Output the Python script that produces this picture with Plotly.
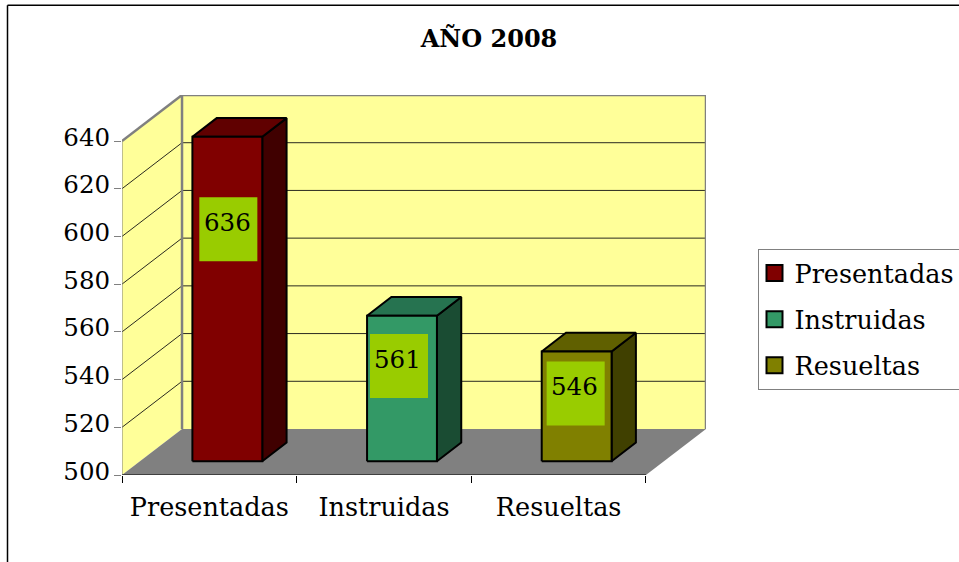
import plotly.graph_objects as go

categories = ["Presentadas", "Instruidas", "Resueltas"]
values = [636, 561, 546]
y_ticks = [500, 520, 540, 560, 580, 600, 620, 640]
title_text = "AÑO 2008"

front_colors = ["#800000", "#339966", "#808000"]
top_colors = ["#600000", "#267350", "#606000"]
side_colors = ["#400000", "#1A4C33", "#404000"]
WALL = "#FFFF99"
FLOOR = "#808080"
EDGE = "#808080"
LABEL_BG = "#99CC00"
FONT = "DejaVu Serif"

# pixel frame of the plot area
W, H = 959, 562
L, R, T, B = 122.0, 706.0, 94.5, 474.7
Y_MIN, Y_MAX = 500, 640
PX_PER_CAT = 174.6
PX_PER_UNIT = (B - 140.7) / (Y_MAX - Y_MIN)
DX = 60.0 / PX_PER_CAT      # full-depth shift, in category units
DY = 46.0 / PX_PER_UNIT     # full-depth shift, in value units
N = len(categories)
BAR_W = 0.40
D_FRONT, D_BACK = 0.30, 0.705
LABEL_NUDGE_PX = (2.0, -2.0, 0.0)  # small horizontal offset of each value label


def P(x, v, d=0.0):
    return x + d * DX, v + d * DY


def poly(points, fill, line_color=None, line_width=0, closed=True, hover=None):
    pts = [P(*p) for p in points]
    if closed:
        pts.append(pts[0])
    return go.Scatter(
        x=[p[0] for p in pts], y=[p[1] for p in pts],
        mode="lines", fill="toself" if fill else "none", fillcolor=fill,
        line=dict(color=line_color or "rgba(0,0,0,0)", width=line_width),
        cliponaxis=False, showlegend=False, hoverinfo="skip",
    )


def segs(seglist, color, width):
    xs, ys = [], []
    for seg in seglist:
        for p in seg:
            q = P(*p)
            xs.append(q[0]); ys.append(q[1])
        xs.append(None); ys.append(None)
    return go.Scatter(x=xs, y=ys, mode="lines", line=dict(color=color, width=width),
                      cliponaxis=False, showlegend=False, hoverinfo="skip")


fig = go.Figure()

# walls and floor
fig.add_trace(poly([(0, Y_MIN, 1), (N, Y_MIN, 1), (N, Y_MAX, 1), (0, Y_MAX, 1)], WALL))
fig.add_trace(poly([(0, Y_MIN, 0), (0, Y_MIN, 1), (0, Y_MAX, 1), (0, Y_MAX, 0)], WALL))
fig.add_trace(poly([(0, Y_MIN, 0), (N, Y_MIN, 0), (N, Y_MIN, 1), (0, Y_MIN, 1)], FLOOR))

# gridlines
grid = [[(0, t, 0), (0, t, 1), (N, t, 1)] for t in y_ticks if Y_MIN < t < Y_MAX]
fig.add_trace(segs(grid, "#2a2a20", 1))

# wall edges
fig.add_trace(segs([[(0, Y_MIN, 1), (0, Y_MAX, 1), (N, Y_MAX, 1), (N, Y_MIN, 1)],
                    [(0, Y_MAX, 0), (0, Y_MAX, 1)]], EDGE, 2.5))
fig.add_trace(segs([[(0, Y_MIN, 0), (0, Y_MAX, 0)]], EDGE, 1))
# category axis line and ticks
fig.add_trace(segs([[(0, Y_MIN, 0), (N, Y_MIN, 0)]], "#000000", 1))

# bars
for i, (cat, v) in enumerate(zip(categories, values)):
    x0, x1 = i + 0.5 - BAR_W / 2, i + 0.5 + BAR_W / 2
    fig.add_trace(poly([(x1, Y_MIN, D_FRONT), (x1, Y_MIN, D_BACK), (x1, v, D_BACK), (x1, v, D_FRONT)],
                       side_colors[i], "#000000", 2))
    fig.add_trace(poly([(x0, v, D_FRONT), (x1, v, D_FRONT), (x1, v, D_BACK), (x0, v, D_BACK)],
                       top_colors[i], "#000000", 2))
    fig.add_trace(poly([(x0, Y_MIN, D_FRONT), (x1, Y_MIN, D_FRONT), (x1, v, D_FRONT), (x0, v, D_FRONT)],
                       front_colors[i], "#000000", 2))

# value labels (green box hung below the top of each bar)
BOX_W = 58.0 / PX_PER_CAT
BOX_H = 64.0 / PX_PER_UNIT
for i, v in enumerate(values):
    cx = i + 0.5 + (LABEL_NUDGE_PX[i] - 1.0) / PX_PER_CAT
    cv = v - 6.75 - 0.2357 * (v - Y_MIN)
    fig.add_trace(poly([(cx - BOX_W / 2, cv - BOX_H / 2, D_FRONT), (cx + BOX_W / 2, cv - BOX_H / 2, D_FRONT),
                        (cx + BOX_W / 2, cv + BOX_H / 2, D_FRONT), (cx - BOX_W / 2, cv + BOX_H / 2, D_FRONT)],
                       LABEL_BG))
    tx, tv = P(cx - 1.0 / PX_PER_CAT, cv + 6.5 / PX_PER_UNIT, D_FRONT)
    fig.add_annotation(x=tx, y=tv, text=str(v), showarrow=False, xanchor="center", yanchor="middle",
                       font=dict(family=FONT, size=24.5, color="#000000"))

# legend entries
for i, cat in enumerate(categories):
    fig.add_trace(go.Scatter(x=[None], y=[None], mode="markers", name=cat, legendgroup=cat,
                             marker=dict(symbol="square", size=16, color=front_colors[i],
                                         line=dict(color="#000000", width=2))))

PW = R - L
PH = B - T
fig.update_layout(
    width=W, height=H, autosize=False,
    margin=dict(l=L, r=W - R, t=T, b=H - B, pad=0, autoexpand=False),
    paper_bgcolor="#FFFFFF", plot_bgcolor="rgba(0,0,0,0)",
    font=dict(family=FONT, size=24, color="#000000"),
    title=dict(text="<b>%s</b>" % title_text, x=489 / W, y=1 - 39 / H, xanchor="center", yanchor="middle",
               xref="container", yref="container", font=dict(family=FONT, size=24, color="#000000")),
    xaxis=dict(range=[0, N + DX], showgrid=False, zeroline=False, showline=False,
               tickmode="array", tickvals=[i + 0.5 for i in range(N)], ticktext=categories, ticks="",
               minor=dict(tickmode="array", tickvals=list(range(N + 1)), ticks="outside", ticklen=7,
                          tickcolor="#000000", tickwidth=1, showgrid=False),
               tickfont=dict(family=FONT, size=25.5), ticklabelstandoff=14, fixedrange=True),
    yaxis=dict(range=[Y_MIN, Y_MAX + DY], showgrid=False, zeroline=False, showline=False,
               tickmode="array", tickvals=y_ticks, ticktext=[str(t) for t in y_ticks],
               ticks="outside", ticklen=7, tickcolor="#808080", tickwidth=1,
               tickfont=dict(family=FONT, size=24.5), ticklabelstandoff=-1, ticklabelshift=-4, fixedrange=True),
    legend=dict(x=(757.5 - L) / PW, y=(B - 248.5) / PH, xanchor="left", yanchor="top",
                bordercolor="#808080", borderwidth=1, bgcolor="#FFFFFF", indentation=-4,
                tracegroupgap=10, font=dict(family=FONT, size=25.5), itemsizing="trace"),
    shapes=[dict(type="line", xref="paper", yref="paper", x0=(7.5 - L) / PW, x1=(7.5 - L) / PW,
                 y0=(B - 600) / PH, y1=(B - 4.7) / PH, line=dict(color="#000000", width=1.5)),
            dict(type="line", xref="paper", yref="paper", x0=(7.5 - L) / PW, x1=(980 - L) / PW,
                 y0=(B - 4.7) / PH, y1=(B - 4.7) / PH, line=dict(color="#000000", width=1.5))],
)

fig.write_html("out.html", config={"displayModeBar": False},
               post_script="document.body.style.margin='0';document.body.style.overflow='hidden';")
